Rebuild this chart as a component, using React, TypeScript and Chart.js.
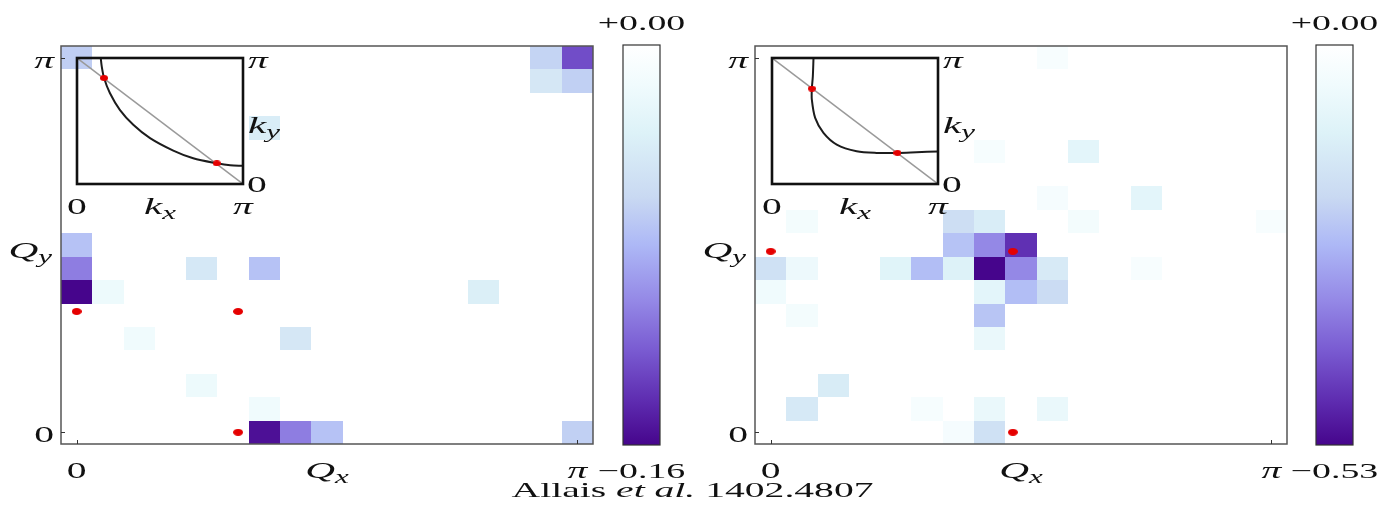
import React, { useEffect, useRef } from 'react';
import { Chart, registerables } from 'chart.js';

Chart.register(...registerables);

// ---------------- data ----------------
// Q grid: index 0..16 corresponds to Q = 0..π
const Q_TICK_VALUES = [0, 16];
const Q_TICK_LABELS = ['0', 'π'];
const Q_LABEL_POS = 8; // where the Q_x / Q_y axis names sit (grid index)

// [Qx index, Qy index, value]
const LEFT_CELLS: [number, number, number][] = [
  [0, 16, -0.067], [6, 13, -0.04], [0, 8, -0.074], [0, 7, -0.107], [0, 6, -0.16],
  [1, 6, -0.019], [2, 4, -0.016], [4, 7, -0.045], [4, 2, -0.019], [6, 7, -0.074],
  [6, 1, -0.016], [6, 0, -0.155], [7, 0, -0.107], [7, 4, -0.046], [8, 0, -0.074],
  [13, 6, -0.038], [16, 0, -0.066], [15, 16, -0.064], [15, 15, -0.046],
  [16, 16, -0.128], [16, 15, -0.066],
];
const RIGHT_CELLS: [number, number, number][] = [
  [1, 9, -0.042], [6, 9, -0.186], [7, 9, -0.133], [6, 8, -0.244], [7, 8, -0.339],
  [8, 8, -0.466], [7, 12, -0.032], [9, 16, -0.027], [10, 12, -0.095], [9, 10, -0.037],
  [12, 10, -0.095], [10, 9, -0.042], [16, 9, -0.027], [0, 7, -0.175], [1, 7, -0.064],
  [4, 7, -0.106], [5, 7, -0.254], [6, 7, -0.117], [7, 7, -0.53], [8, 7, -0.339],
  [9, 7, -0.143], [12, 7, -0.027], [0, 6, -0.053], [7, 6, -0.095], [8, 6, -0.254],
  [9, 6, -0.191], [1, 5, -0.042], [7, 5, -0.239], [7, 4, -0.074], [2, 2, -0.138],
  [1, 1, -0.148], [5, 1, -0.032], [7, 1, -0.074], [9, 1, -0.074], [6, 0, -0.037],
  [7, 0, -0.175],
];

// nesting vectors (red dots) in grid-index units
const LEFT_NESTING: [number, number][] = [[5.16, 0], [0, 5.16], [5.16, 5.16]];
const RIGHT_NESTING: [number, number][] = [[7.74, 0], [0, 7.73], [7.74, 7.73]];

// colour scale ranges and labels
const LEFT_VMIN = -0.16;
const RIGHT_VMIN = -0.53;
const LEFT_CB_LABELS = ['+0.00', '−0.16'];
const RIGHT_CB_LABELS = ['+0.00', '−0.53'];

// Fermi surfaces in the insets (units of π)
const LEFT_FS_KX = [0.143, 0.149, 0.163, 0.198, 0.258, 0.339, 0.44, 0.58, 0.70, 0.842, 0.923, 1.0];
const LEFT_FS_KY = [1.0, 0.933, 0.841, 0.722, 0.589, 0.47, 0.364, 0.265, 0.204, 0.164, 0.148, 0.145];
const RIGHT_FS_KX = [0.25, 0.246, 0.24, 0.24, 0.26, 0.31, 0.39, 0.51, 0.63, 0.756, 0.87, 1.0];
const RIGHT_FS_KY = [1.0, 0.854, 0.757, 0.67, 0.525, 0.406, 0.313, 0.26, 0.247, 0.247, 0.252, 0.258];
const LEFT_HOTSPOTS: [number, number][] = [[0.163, 0.841], [0.842, 0.164]];
const RIGHT_HOTSPOTS: [number, number][] = [[0.24, 0.757], [0.756, 0.247]];
const ANTIDIAGONAL: [number, number][] = [[0, 1], [1, 0]];

// colormap stops
const CMAP_POS = [0, 0.1, 0.22, 0.38, 0.5, 0.64, 0.76, 0.89, 1];
const CMAP_COL = ['#ffffff', '#f0fbfd', '#ddf2f8', '#c9d9f2', '#adb8f6', '#9488e6', '#7a5cd2', '#5e2cb0', '#46058c'];

// ---------------- helpers ----------------
const SX = 1.72;
const SERIF = '"Liberation Serif", "DejaVu Serif", serif';

function hexRgb(h: string) {
  const n = parseInt(h.slice(1), 16);
  return [(n >> 16) & 255, (n >> 8) & 255, n & 255];
}
function cmap(t: number) {
  t = Math.max(0, Math.min(1, t));
  let i = 0;
  while (i < CMAP_POS.length - 2 && t > CMAP_POS[i + 1]) i++;
  const f = (t - CMAP_POS[i]) / (CMAP_POS[i + 1] - CMAP_POS[i]);
  const a = hexRgb(CMAP_COL[i]);
  const b = hexRgb(CMAP_COL[i + 1]);
  const c = a.map((v, k) => Math.round(v + (b[k] - v) * f));
  return `rgb(${c[0]},${c[1]},${c[2]})`;
}

type Part = { t: string; italic?: boolean; size?: number; dy?: number };
function drawText(ctx: CanvasRenderingContext2D, parts: Part[], x: number, y: number, align: 'left' | 'center' | 'right', sx = SX) {
  ctx.save();
  const fonts = parts.map((p) => `${p.italic ? 'italic ' : ''}${p.size || 23}px ${SERIF}`);
  const widths = parts.map((p, i) => {
    ctx.font = fonts[i];
    return ctx.measureText(p.t).width;
  });
  const total = widths.reduce((a, b) => a + b, 0) * sx;
  const start = align === 'left' ? x : align === 'center' ? x - total / 2 : x - total;
  ctx.translate(start, y);
  ctx.scale(sx, 1);
  ctx.fillStyle = '#111';
  ctx.textAlign = 'left';
  ctx.textBaseline = 'alphabetic';
  let cx = 0;
  parts.forEach((p, i) => {
    ctx.font = fonts[i];
    ctx.fillText(p.t, cx, p.dy || 0);
    cx += widths[i];
  });
  ctx.restore();
}

function ellipseImage(w: number, h: number, color: string) {
  const c = document.createElement('canvas');
  c.width = w;
  c.height = h;
  const g = c.getContext('2d')!;
  g.fillStyle = color;
  g.beginPath();
  g.ellipse(w / 2, h / 2, w / 2, h / 2, 0, 0, Math.PI * 2);
  g.fill();
  return c;
}

type Pad = { left: number; right: number; top: number; bottom: number };

function heatmapConfig(cells: [number, number, number][], vmin: number, dots: [number, number][], pad: Pad): any {
  return {
    type: 'scatter',
    data: {
      datasets: [
        {
          data: dots.map(([x, y]) => ({ x, y })),
          pointStyle: ellipseImage(10, 7, '#e50000'),
          pointRadius: 5,
          borderWidth: 0,
          backgroundColor: '#e50000',
        },
      ],
    },
    options: {
      animation: false,
      responsive: false,
      devicePixelRatio: 1,
      events: [],
      layout: { padding: pad },
      scales: {
        x: { type: 'linear', min: -0.5, max: 16.5, display: false },
        y: { type: 'linear', min: -0.5, max: 16.5, display: false },
      },
      plugins: { legend: { display: false }, tooltip: { enabled: false } },
    },
    plugins: [
      {
        id: 'heat',
        beforeDatasetsDraw(chart: any) {
          const { ctx, scales } = chart;
          const xs = scales.x;
          const ys = scales.y;
          ctx.save();
          for (const [qx, qy, v] of cells) {
            const x0 = Math.round(xs.getPixelForValue(qx - 0.5));
            const x1 = Math.round(xs.getPixelForValue(qx + 0.5));
            const y0 = Math.round(ys.getPixelForValue(qy + 0.5));
            const y1 = Math.round(ys.getPixelForValue(qy - 0.5));
            ctx.fillStyle = cmap(v / vmin);
            ctx.fillRect(x0, y0, x1 - x0, y1 - y0);
          }
          ctx.restore();
        },
        afterDatasetsDraw(chart: any) {
          const { ctx, chartArea: a, scales } = chart;
          const xs = scales.x;
          const ys = scales.y;
          ctx.save();
          ctx.strokeStyle = '#555';
          ctx.lineWidth = 1.5;
          ctx.strokeRect(a.left, a.top, a.right - a.left, a.bottom - a.top);
          ctx.strokeStyle = '#333';
          ctx.lineWidth = 1;
          Q_TICK_VALUES.forEach((v) => {
            const px = Math.round(xs.getPixelForValue(v)) + 0.5;
            ctx.beginPath();
            ctx.moveTo(px, a.bottom);
            ctx.lineTo(px, a.bottom - 4);
            ctx.stroke();
            const py = Math.round(ys.getPixelForValue(v)) + 0.5;
            ctx.beginPath();
            ctx.moveTo(a.left, py);
            ctx.lineTo(a.left + 4, py);
            ctx.stroke();
          });
          ctx.restore();
          Q_TICK_VALUES.forEach((v, i) => {
            const italic = Q_TICK_LABELS[i] === 'π';
            drawText(ctx, [{ t: Q_TICK_LABELS[i], italic }], a.left - 7, ys.getPixelForValue(v) + 10, 'right');
            drawText(ctx, [{ t: Q_TICK_LABELS[i], italic }], xs.getPixelForValue(v), a.bottom + 34, 'center');
          });
          drawText(ctx, [{ t: 'Q', italic: true, size: 24 }, { t: 'y', italic: true, size: 18, dy: 5 }], a.left - 9, ys.getPixelForValue(Q_LABEL_POS - 0.2) + 8, 'right');
          drawText(ctx, [{ t: 'Q', italic: true, size: 24 }, { t: 'x', italic: true, size: 18, dy: 5 }], xs.getPixelForValue(Q_LABEL_POS), a.bottom + 34, 'center');
        },
      },
    ],
  };
}

function insetConfig(kx: number[], ky: number[], hot: [number, number][], pad: Pad): any {
  return {
    type: 'scatter',
    data: {
      datasets: [
        {
          data: hot.map(([x, y]) => ({ x, y })),
          pointStyle: ellipseImage(8, 6, '#e50000'),
          pointRadius: 4,
          borderWidth: 0,
          backgroundColor: '#e50000',
        },
        {
          data: kx.map((x, i) => ({ x, y: ky[i] })),
          showLine: true,
          borderColor: '#1c1c1c',
          borderWidth: 2,
          pointRadius: 0,
          tension: 0.3,
        },
        {
          data: ANTIDIAGONAL.map(([x, y]) => ({ x, y })),
          showLine: true,
          borderColor: '#9a9a9a',
          borderWidth: 1.5,
          pointRadius: 0,
        },
      ],
    },
    options: {
      animation: false,
      responsive: false,
      devicePixelRatio: 1,
      events: [],
      layout: { padding: pad },
      scales: {
        x: { type: 'linear', min: 0, max: 1, display: false },
        y: { type: 'linear', min: 0, max: 1, display: false },
      },
      plugins: { legend: { display: false }, tooltip: { enabled: false } },
    },
    plugins: [
      {
        id: 'insetFrame',
        afterDraw(chart: any) {
          const { ctx, chartArea: a, scales } = chart;
          ctx.save();
          ctx.strokeStyle = '#111';
          ctx.lineWidth = 2.6;
          ctx.strokeRect(a.left, a.top, a.right - a.left, a.bottom - a.top);
          ctx.restore();
          const xs = scales.x;
          const ys = scales.y;
          drawText(ctx, [{ t: 'π', italic: true }], a.right + 5, ys.getPixelForValue(1) + 10, 'left');
          drawText(ctx, [{ t: 'k', italic: true, size: 24 }, { t: 'y', italic: true, size: 18, dy: 5 }], a.right + 5, ys.getPixelForValue(0.5) + 12, 'left');
          drawText(ctx, [{ t: '0' }], a.right + 4, ys.getPixelForValue(0) + 8, 'left');
          drawText(ctx, [{ t: '0' }], xs.getPixelForValue(0), a.bottom + 30, 'center');
          drawText(ctx, [{ t: 'k', italic: true, size: 24 }, { t: 'x', italic: true, size: 18, dy: 5 }], xs.getPixelForValue(0.5), a.bottom + 30, 'center');
          drawText(ctx, [{ t: 'π', italic: true }], xs.getPixelForValue(1), a.bottom + 30, 'center');
        },
      },
    ],
  };
}

function colorbarConfig(vmin: number, labels: string[], pad: Pad): any {
  return {
    type: 'scatter',
    data: { datasets: [] },
    options: {
      animation: false,
      responsive: false,
      devicePixelRatio: 1,
      events: [],
      layout: { padding: pad },
      scales: {
        x: { type: 'linear', min: 0, max: 1, display: false },
        y: { type: 'linear', min: vmin, max: 0, display: false },
      },
      plugins: { legend: { display: false }, tooltip: { enabled: false } },
    },
    plugins: [
      {
        id: 'cbar',
        afterDraw(chart: any) {
          const { ctx, chartArea: a, scales } = chart;
          const ys = scales.y;
          const y0 = ys.getPixelForValue(0);
          const y1 = ys.getPixelForValue(vmin);
          ctx.save();
          const g = ctx.createLinearGradient(0, y0, 0, y1);
          CMAP_POS.forEach((p, i) => g.addColorStop(p, CMAP_COL[i]));
          ctx.fillStyle = g;
          ctx.fillRect(a.left, y0, a.right - a.left, y1 - y0);
          ctx.strokeStyle = '#333';
          ctx.lineWidth = 1.2;
          ctx.strokeRect(a.left, y0, a.right - a.left, y1 - y0);
          ctx.restore();
          const cx = (a.left + a.right) / 2;
          drawText(ctx, [{ t: labels[0], size: 22 }], cx, y0 - 15, 'center');
          drawText(ctx, [{ t: labels[1], size: 22 }], cx, y1 + 33, 'center');
        },
      },
    ],
  };
}

function ChartBox({ left, top, width, height, make }: { left: number; top: number; width: number; height: number; make: () => any }) {
  const ref = useRef<HTMLCanvasElement>(null);
  useEffect(() => {
    const chart = new Chart(ref.current!, make());
    return () => chart.destroy();
  }, []);
  return (
    <canvas
      ref={ref}
      width={width}
      height={height}
      style={{ position: 'absolute', left, top, width, height }}
    />
  );
}

export default function App() {
  return (
    <div style={{ position: 'absolute', left: 0, top: 0, width: 1386, height: 516, background: '#fff', overflow: 'hidden' }}>
      {/* left panel */}
      <ChartBox left={0} top={0} width={600} height={516}
        make={() => heatmapConfig(LEFT_CELLS, LEFT_VMIN, LEFT_NESTING, { left: 61, right: 7, top: 46, bottom: 72 })} />
      <ChartBox left={40} top={40} width={260} height={190}
        make={() => insetConfig(LEFT_FS_KX, LEFT_FS_KY, LEFT_HOTSPOTS, { left: 37, right: 57, top: 18, bottom: 46 })} />
      <ChartBox left={590} top={0} width={110} height={516}
        make={() => colorbarConfig(LEFT_VMIN, LEFT_CB_LABELS, { left: 33, right: 40, top: 45, bottom: 71 })} />
      {/* right panel */}
      <ChartBox left={700} top={0} width={600} height={516}
        make={() => heatmapConfig(RIGHT_CELLS, RIGHT_VMIN, RIGHT_NESTING, { left: 55, right: 13, top: 46, bottom: 72 })} />
      <ChartBox left={735} top={40} width={260} height={190}
        make={() => insetConfig(RIGHT_FS_KX, RIGHT_FS_KY, RIGHT_HOTSPOTS, { left: 37, right: 57, top: 18, bottom: 46 })} />
      <ChartBox left={1290} top={0} width={96} height={516}
        make={() => colorbarConfig(RIGHT_VMIN, RIGHT_CB_LABELS, { left: 26, right: 33, top: 45, bottom: 71 })} />
      {/* credit */}
      <div style={{ position: 'absolute', left: 0, top: 479, width: 1386, textAlign: 'center', font: `22px ${SERIF}`, lineHeight: '22px', color: '#111' }}>
        <span style={{ display: 'inline-block', transform: 'scaleX(1.8)' }}>
          Allais <i>et al.</i> 1402.4807
        </span>
      </div>
    </div>
  );
}
